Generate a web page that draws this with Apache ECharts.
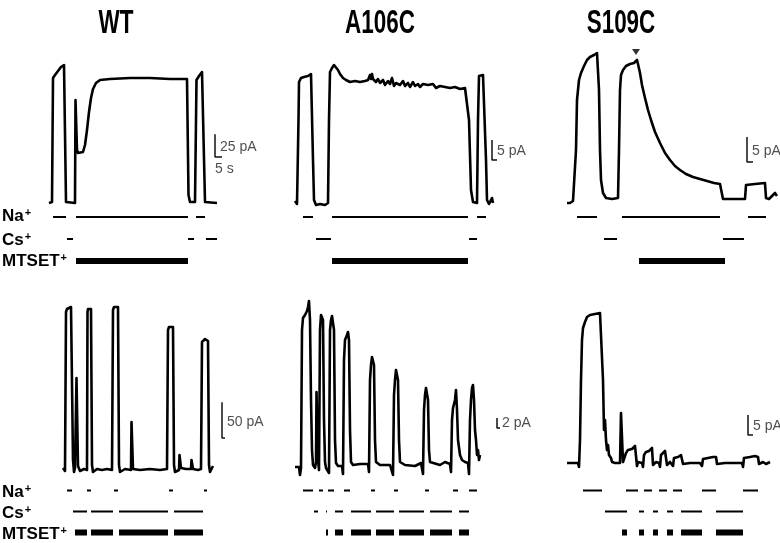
<!DOCTYPE html>
<html>
<head>
<meta charset="utf-8">
<script src="https://cdn.jsdelivr.net/npm/echarts@6.0.0/dist/echarts.min.js"></script>
<style>
  html, body { margin: 0; padding: 0; background: #fff; }
  #chart { width: 780px; height: 543px; }
</style>
</head>
<body>
<div id="chart"></div>
<script>
// current traces: [time (s), current (pA)]
var wtTop = [[0,-1.1],[2.1,0],[2.8,136.4],[4.2,139.7],[6.3,144.1],[8.4,148.5],[10.5,150.7],[11.2,149.6],[11.9,0],[12.6,-1.1],[18.2,-1.1],[18.55,112.2],[19.25,112.2],[19.6,57.2],[20.3,53.9],[21.7,52.8],[23.8,55],[25.2,62.7],[26.6,79.2],[28,99],[29.4,114.4],[30.8,124.3],[32.9,130.9],[35.7,134.2],[42.7,135.3],[56.7,136.4],[70.7,136.4],[84.7,135.3],[96.6,135.3],[97.65,7.7],[98.7,0],[102.2,0],[103.25,134.2],[105,138.6],[107.1,143],[108.5,143],[109.2,0],[110.6,-1.1],[117.6,-1.1]];
var a106cTop = [[0,0.5],[1.4,-0.25],[2.45,20.75],[2.8,30.25],[4.2,31.25],[6.3,31.5],[9.1,31.75],[11.2,32.25],[11.9,32],[12.6,10.75],[13.3,0.75],[14.7,-0.5],[17.5,-0.25],[21,-0.5],[23.1,0],[23.8,20.75],[24.5,32.75],[25.9,33.75],[27.3,34.5],[28.7,34.25],[30.1,33.25],[31.5,32.25],[33.6,31.25],[35.7,30.75],[38.5,30.25],[42,30.5],[45.5,30.25],[49,30.5],[51.1,30.75],[52.5,32],[53.2,31],[53.9,32.25],[54.6,31],[56,31.5],[56.7,30.25],[58.1,31],[59.5,30],[61.6,30.75],[63,29.5],[65.1,30.5],[66.5,29.75],[67.9,31.25],[69.3,29.25],[70.7,30],[73.5,29.5],[75.6,30.5],[77,29.25],[79.1,30],[80.5,29],[82.6,30.25],[84,29.25],[86.1,29.75],[87.5,29],[89.6,29.75],[91,29.25],[93.1,29.5],[94.5,29],[96.6,29.75],[98.7,28.75],[101.5,29.25],[105,29],[108.5,28.75],[112,29],[115.5,28.5],[119,28.75],[120.4,28.25],[121.8,20.75],[123.2,3.25],[124.6,0.25],[127.4,0],[128.1,20.75],[128.8,31.75],[130.2,32.25],[131.6,32],[133,31.75],[133.7,10.75],[134.4,0.75],[135.8,-0.25],[137.2,0],[137.9,1.25],[138.6,0]];
var s109cTop = [[0,0],[2.1,0],[4.2,0.4],[5.6,0.6],[6.3,10.6],[7,20.6],[8.4,24.6],[9.8,26],[11.9,27.4],[14,28.6],[16.1,29.2],[18.9,29.6],[21,30],[21.7,30.2],[22.4,22.6],[23.1,10.6],[23.8,4.6],[25.2,2],[27.3,1],[31.5,0.8],[35.7,1],[36.4,10.6],[37.1,22.6],[37.8,25.6],[39.2,26.6],[41.3,27.4],[44.1,27.8],[46.9,28],[48.3,28.2],[49,28.6],[49.7,27.8],[51.1,26],[52.5,23.6],[54.6,21],[56.7,18.6],[58.8,16.6],[61.6,14.2],[65.1,12],[68.6,10],[72.1,8.6],[75.6,7.4],[79.1,6.6],[83.3,5.8],[88.2,5.2],[93.1,4.8],[98,4.4],[102.9,4],[107.1,3.8],[108.5,4],[109.2,0.8],[114.1,0.8],[121.1,0.8],[124.6,0.8],[125.3,3.6],[126.7,3.8],[131.6,3.8],[138.6,4],[139.3,1],[141.4,0.8],[143.5,1.4],[145.6,2],[147,1.4]];
var wtBottom = [[0,2.8],[1.4,-1.4],[2.1,221.2],[2.8,225.4],[4.2,228.2],[5.6,228.2],[6.3,225.4],[7,14],[7.7,-2.8],[8.4,2.8],[9.1,0],[9.45,128.8],[10.15,128.8],[10.5,5.6],[11.9,-1.4],[14.7,1.4],[16.8,0],[17.15,221.2],[17.5,225.4],[18.9,228.2],[19.6,225.4],[20.3,7],[21,-2.8],[23.8,1.4],[27.3,0],[30.8,1.4],[34.3,0],[35,224],[35.7,228.2],[37.1,229.6],[38.5,228.2],[39.2,7],[39.9,-2.8],[43.4,1.4],[47.6,0],[47.95,67.2],[48.65,67.2],[49,1.4],[53.9,0],[60.9,1.4],[67.9,0],[72.8,1.4],[73.5,196],[74.2,200.2],[75.6,201.6],[77,200.2],[77.7,7],[78.4,-2.8],[81.2,0],[81.55,21],[82.25,21],[82.6,2.8],[86.1,1.4],[89.6,1.4],[89.95,14],[90.65,14],[91,1.4],[94.5,0],[96.6,1.4],[97.3,179.2],[98,182],[99.4,183.4],[100.8,183.4],[101.5,180.6],[102.2,7],[102.9,-2.8],[104.3,0],[105,5.6]];
var a106cBottom = [[0,0],[2.8,0],[3.5,-1.6],[4.2,-0.2],[4.9,27.4],[5.6,29.8],[7,30.4],[8.4,31.2],[9.1,32],[9.8,33.2],[10.5,29.4],[11.2,13.4],[11.9,3.4],[12.6,0.4],[14,-0.2],[14.7,1],[15.05,15],[15.75,15],[16.1,1.4],[16.8,-0.6],[17.5,27.4],[18.2,30.4],[18.9,30.8],[19.6,29.4],[20.3,9.4],[21,1],[21.7,-0.2],[23.1,-0.6],[23.8,-1.2],[24.5,27.4],[25.2,29.4],[25.9,30.2],[26.6,29.8],[27.3,27.4],[28,5.4],[28.7,0.8],[30.1,0.2],[32.9,0.2],[33.6,-1.4],[34.3,21.4],[35,25.4],[36.4,26.4],[37.1,27],[37.8,25.4],[38.5,7.4],[39.2,1],[40.6,0.4],[45.5,0.6],[51.1,0.6],[51.8,-1],[52.5,17.4],[53.2,20.4],[53.9,22],[54.6,22.4],[55.3,20.4],[56,5.4],[56.7,1],[59.5,0.4],[66.5,0.4],[67.9,0.2],[68.6,-1.6],[69.3,14.4],[70,17.4],[70.7,19.4],[71.4,19.8],[72.1,17.4],[72.8,5.4],[73.5,1],[77,0.4],[84,0.2],[88.2,0.8],[89.6,-1.4],[90.3,11.4],[91,14.4],[91.7,15.8],[92.4,16],[93.1,13.4],[93.8,3.4],[94.5,1],[101.5,0.4],[105,1],[106.4,0.6],[108.5,0.6],[109.2,-1],[109.9,9.4],[110.6,11.8],[112,13.4],[112.7,15.4],[113.4,11.4],[114.1,5.4],[115.5,2.4],[116.9,1.4],[119,1],[121.1,0.8],[121.8,-1.4],[122.5,9.4],[123.2,13.4],[123.9,15.8],[124.6,16.4],[125.3,13.4],[126,7.4],[126.7,5.4],[127.4,2.4],[128.1,3.4],[128.8,1.4],[129.5,2.4]];
var s109cBottom = [[0,0],[5.6,0],[7.7,0],[8.4,-1],[9.1,5.75],[9.8,20.75],[10.5,30.75],[11.2,33.75],[12.6,35.25],[14,36.5],[16.1,37],[19.6,37.25],[23.1,37.5],[24.5,38],[25.2,20.75],[25.9,8.25],[26.6,10.75],[27.3,5.75],[28,3.25],[28.7,4.5],[29.4,2],[30.8,1.25],[31.5,0.25],[33.6,0],[37.1,0],[37.8,12.5],[38.5,12.5],[39.2,0.25],[40.6,0.75],[41.3,2.5],[42.7,3.25],[45.5,3.5],[47.6,4.25],[48.3,4],[49,-0.75],[49.7,0.25],[52.5,0],[53.2,-1],[53.9,2],[55.3,2.75],[57.4,3],[58.8,3.25],[59.5,3.75],[60.2,-0.5],[62.3,0.25],[64.4,0],[65.1,-1],[65.8,2],[67.2,2.5],[68.6,3],[69.3,2.75],[70,-0.5],[72.1,0.25],[73.5,0],[74.2,-0.75],[74.9,1.25],[77.7,1.5],[79.8,2],[80.5,2.5],[81.2,-0.25],[86.1,0],[93.1,0],[94.5,-0.75],[95.2,1],[98.7,1.25],[102.2,1.5],[103.6,2],[104.3,1.5],[105,-0.25],[110.6,0],[117.6,0],[122.5,0],[123.2,-1],[123.9,1.25],[128.1,1.5],[131.6,1.75],[133,2.25],[133.7,1.5],[134.4,-0.25],[137.2,0.25],[139.3,-0.25],[142.1,0.25]];

// solution applications: [start s, end s]
var wtTopNa = [[2.8,11.9],[18.9,97.3],[102.9,109.2]];
var wtTopCs = [[12.6,16.8],[97.3,101.5],[109.9,117.6]];
var wtTopMtset = [[18.9,97.3]];
var a106cTopNa = [[5.6,12.6],[25.9,121.1],[127.4,133.7]];
var a106cTopCs = [[14.7,25.2],[121.8,127.4]];
var a106cTopMtset = [[25.9,121.1]];
var s109cTopNa = [[7,21],[38.5,107.1],[126.7,139.3]];
var s109cTopCs = [[25.9,35],[109.2,123.9]];
var s109cTopMtset = [[50.4,110.6]];
var wtBottomNa = [[2.8,6.3],[16.8,19.6],[35.7,38.5],[74.2,77],[98.7,100.8]];
var wtBottomCs = [[7,16.8],[19.6,35],[39.2,73.5],[77.7,98]];
var wtBottomMtset = [[8.4,16.8],[19.6,35],[39.2,73.5],[77.7,98]];
var a106cBottomNa = [[5.6,12.6],[16.8,19.6],[23.1,27.3],[34.3,38.5],[53.2,56],[69.3,72.1],[91,93.8],[110.6,114.1],[121.8,127.4]];
var a106cBottomCs = [[13.3,16.1],[21.7,22.4],[28,33.6],[39.2,53.2],[56.7,69.3],[72.8,90.3],[94.5,109.9],[114.8,121.8]];
var a106cBottomMtset = [[21.7,23.1],[28,33.6],[39.2,53.2],[56.7,69.3],[72.8,90.3],[94.5,109.9],[114.8,121.8]];
var s109cBottomNa = [[11.2,24.5],[41.3,49.7],[53.9,59.5],[64.4,70],[74.2,80.5],[94.5,104.3],[123.2,133.7]];
var s109cBottomCs = [[26.6,42],[50.4,53.9],[60.2,63.7],[70,74.2],[79.8,94.5],[104.3,123.2]];
var s109cBottomMtset = [[38.5,42],[50.4,53.9],[60.2,63.7],[70,74.2],[79.8,94.5],[104.3,123.2]];

// scale bars: [time s, bottom pA, height pA, foot s, time label]
var wtTopScale = [116.2, 49.5, 25, 4.9, '5 s'];
var a106cTopScale = [137.9, 10.75, 5, 3.5, ''];
var s109cTopScale = [126, 8.2, 5, 4.2, ''];
var wtBottomScale = [111.3, 44.8, 50, 2.1, ''];
var a106cBottomScale = [141.4, 7.8, 2, 2.1, ''];
var s109cBottomScale = [126.7, 7, 5, 3.5, ''];

var titles = ['WT', 'A106C', 'S109C'];
var ionLabels = ['Na', 'Cs', 'MTSET'];
var arrowMark = [[48.3, 30.2]];

var S_PER_PX = 0.7;
var panels = [
  { trace: wtTop, bars: [wtTopNa, wtTopCs, wtTopMtset], scale: wtTopScale, x0: 49, w: 180, y0: 202, top: 45, bottom: 212, k: 1.1, barTop: 206, barH: 66 },
  { trace: a106cTop, bars: [a106cTopNa, a106cTopCs, a106cTopMtset], scale: a106cTopScale, x0: 295, w: 205, y0: 203, top: 45, bottom: 212, k: 0.25, barTop: 206, barH: 66 },
  { trace: s109cTop, bars: [s109cTopNa, s109cTopCs, s109cTopMtset], scale: s109cTopScale, x0: 567, w: 212, y0: 203, top: 45, bottom: 212, k: 0.2, barTop: 206, barH: 66, arrow: true },
  { trace: wtBottom, bars: [wtBottomNa, wtBottomCs, wtBottomMtset], scale: wtBottomScale, x0: 63, w: 165, y0: 470, top: 290, bottom: 480, k: 1.4, barTop: 480, barH: 64 },
  { trace: a106cBottom, bars: [a106cBottomNa, a106cBottomCs, a106cBottomMtset], scale: a106cBottomScale, x0: 295, w: 210, y0: 467, top: 290, bottom: 480, k: 0.2, barTop: 480, barH: 64 },
  { trace: s109cBottom, bars: [s109cBottomNa, s109cBottomCs, s109cBottomMtset], scale: s109cBottomScale, x0: 567, w: 212, y0: 463, top: 290, bottom: 480, k: 0.25, barTop: 480, barH: 64 }
];

var grid = [], xAxis = [], yAxis = [], series = [];
var scaleFont = { fontFamily: 'Liberation Sans, Arial', fontSize: 14, color: '#222' };

panels.forEach(function (p, i) {
  var g = i * 2;
  // trace area
  grid.push({ left: p.x0, top: p.top, width: p.w, height: p.bottom - p.top });
  xAxis.push({ type: 'value', gridIndex: g, min: 0, max: p.w * S_PER_PX, show: false });
  yAxis.push({ type: 'value', gridIndex: g, min: -(p.bottom - p.y0) * p.k, max: (p.y0 - p.top) * p.k, show: false });
  // solution bars area
  grid.push({ left: p.x0, top: p.barTop, width: p.w, height: p.barH });
  xAxis.push({ type: 'value', gridIndex: g + 1, min: 0, max: p.w * S_PER_PX, show: false });
  yAxis.push({ type: 'category', gridIndex: g + 1, data: ionLabels, inverse: true, show: false });

  series.push({
    type: 'line', xAxisIndex: g, yAxisIndex: g, data: p.trace,
    symbol: 'none', clip: false, animation: false,
    lineStyle: { color: '#000', width: 2.6, join: 'round' }
  });

  var sc = p.scale;
  series.push({
    type: 'line', xAxisIndex: g, yAxisIndex: g, symbol: 'none', clip: false, animation: false,
    data: [[sc[0], sc[1] + sc[2]], [sc[0], sc[1]], [sc[0] + sc[3], sc[1]]],
    lineStyle: { color: '#111', width: 1.5 }
  });
  var labs = [{ value: [sc[0], sc[1] + sc[2] * 0.45], label: Object.assign({ show: true, position: 'right', distance: 5, formatter: sc[2] + ' pA' }, scaleFont) }];
  if (sc[4]) {
    labs.push({ value: [sc[0], sc[1]], label: Object.assign({ show: true, position: 'bottom', align: 'left', distance: 5, formatter: sc[4] }, scaleFont) });
  }
  series.push({
    type: 'scatter', xAxisIndex: g, yAxisIndex: g, symbolSize: 0, animation: false, silent: true,
    data: labs
  });

  var rows = [];
  p.bars.forEach(function (list, r) {
    list.forEach(function (s) { rows.push([s[0], s[1], r]); });
  });
  series.push({
    type: 'custom', xAxisIndex: g + 1, yAxisIndex: g + 1, data: rows, animation: false,
    encode: { x: [0, 1], y: 2 },
    renderItem: function (params, api) {
      var r = api.value(2);
      var a = api.coord([api.value(0), r]);
      var b = api.coord([api.value(1), r]);
      var h = r === 2 ? 6 : 2;
      return { type: 'rect', shape: { x: a[0], y: a[1] - h / 2, width: b[0] - a[0], height: h }, style: { fill: '#000' } };
    }
  });

  if (p.arrow) {
    series.push({
      type: 'scatter', xAxisIndex: g, yAxisIndex: g, data: arrowMark, animation: false,
      symbol: 'triangle', symbolRotate: 180, symbolSize: [8, 6], itemStyle: { color: '#000' }
    });
  }
});

var graphic = [];
var titleX = [116, 380, 621];
titles.forEach(function (t, i) {
  graphic.push({
    type: 'text', x: titleX[i], y: 24, scaleX: 0.66,
    style: { text: t, x: 0, y: 0, align: 'center', verticalAlign: 'middle', font: 'bold 34px "Liberation Sans", Arial', fill: '#000' }
  });
});
var rowY = [[216, 240, 261], [492, 513, 534]];
rowY.forEach(function (ys) {
  ionLabels.forEach(function (lab, r) {
    graphic.push({
      type: 'text', x: 2, y: ys[r],
      style: {
        text: '{b|' + lab + '}{s|+}', x: 0, y: 0, verticalAlign: 'middle', fill: '#000',
        rich: {
          b: { fontSize: 17, fontWeight: 'bold', fontFamily: 'Liberation Sans, Arial', fill: '#000' },
          s: { fontSize: 11, fontWeight: 'bold', fontFamily: 'Liberation Sans, Arial', fill: '#000', verticalAlign: 'top', padding: [0, 0, 7, 1] }
        }
      }
    });
  });
});

var chart = echarts.init(document.getElementById('chart'));
chart.setOption({
  animation: false,
  backgroundColor: '#fff',
  grid: grid,
  xAxis: xAxis,
  yAxis: yAxis,
  series: series,
  graphic: graphic
});
</script>
</body>
</html>
